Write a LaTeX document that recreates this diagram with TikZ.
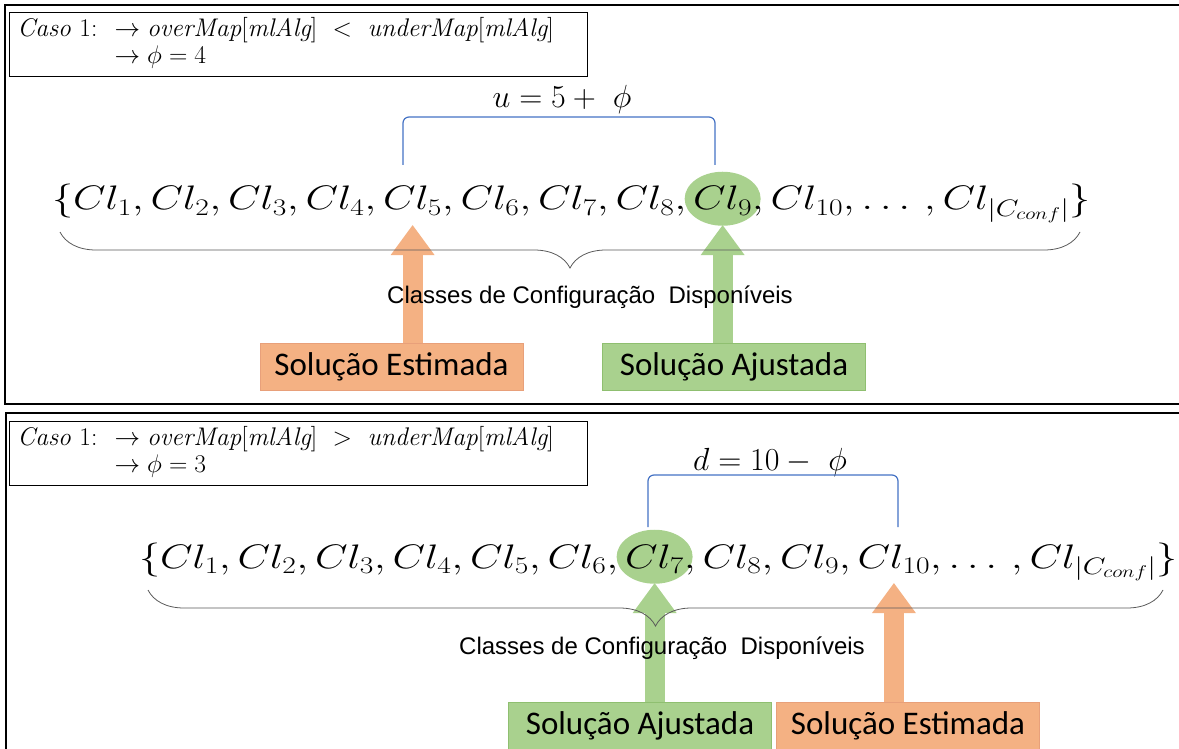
\RequirePackage{fix-cm}
\documentclass[tikz,border=0pt]{standalone}
\usepackage{fontspec}
\newfontfamily\calfont{Carlito}
\newfontfamily\arialfont{Liberation Sans}
\usetikzlibrary{decorations.pathreplacing,arrows.meta,calc}
\pgfdeclarelayer{background}
\pgfsetlayers{background,main}
\definecolor{orfill}{HTML}{F4B183}
\definecolor{gnfill}{HTML}{A9D18E}
\definecolor{ordraw}{HTML}{E8A07A}
\definecolor{gndraw}{HTML}{8FBF70}
\definecolor{brblue}{HTML}{4472C4}
\newcommand\wide[1]{\scalebox{1.24}[1]{#1}}
\tikzset{
  setel/.style={anchor=base west, inner sep=0pt, outer sep=0pt, font=\fontsize{34}{34}\selectfont},
  panel/.style={line width=1.6pt},
  casebox/.style={draw, line width=0.9pt, anchor=north west, text width=562pt,
    inner xsep=8pt, inner ysep=5pt, align=left, font=\fontsize{25.5}{27}\selectfont},
  solbox/.style={minimum width=263pt, minimum height=47pt, inner sep=0pt,
    font=\calfont\fontsize{33}{33}\selectfont},
  estbox/.style={solbox, fill=orfill, draw=ordraw, line width=0.6pt},
  ajubox/.style={solbox, fill=gnfill, draw=gndraw, line width=0.6pt},
  uparrow/.style={line width=20pt, -{Triangle[width=44pt,length=30pt,line width=0pt]}},
  orarrow/.style={uparrow, draw=orfill},
  gnarrow/.style={uparrow, draw=gnfill},
  bracket/.style={draw=brblue, line width=1.2pt, rounded corners=6pt},
  setbrace/.style={draw=gray!70!black, line width=0.8pt, decorate,
    decoration={brace, mirror, amplitude=36pt, aspect=0.5}},
  classlabel/.style={font=\arialfont\fontsize{24}{24}\selectfont, inner sep=0pt},
  shiftlabel/.style={font=\fontsize{32}{32}\selectfont, inner sep=0pt},
  chosen/.style={fill=gnfill},
}
% builds the set {Cl_1, ..., Cl_|Cconf|} from node (#1) at position #2
\newcommand\clset[2]{%
  \node[setel] (#1p0) at (#2) {\wide{$\{$}};
  \foreach \i [remember=\i as \j (initially 0)] in {1,...,10} {
    \node[setel] (#1c\i) at (#1p\j.base east) {\wide{$Cl_{\i}$}};
    \node[setel] (#1p\i) at (#1c\i.base east) {\wide{$,\,$}};
  }
  \node[setel] (#1dots) at (#1p10.base east) {\wide{$\ldots\,,\,$}};
  \node[setel] (#1last) at (#1dots.base east) {\wide{$Cl_{|C_{conf}|}$}};
  \node[setel] (#1end) at (#1last.base east) {\wide{$\}$}};
}
\begin{document}
\begin{tikzpicture}[x=1pt,y=-1pt]
\useasboundingbox (0,0) rectangle (1179,749);

% ---------------- upper panel ----------------
\draw[panel] (1179,5) -- (5,5) -- (5,404) -- (1179,404);
\node[casebox] (case1) at (9,12) {%
  \begin{tabular}{@{}l@{\ \ }l@{}}
  \textit{Caso} 1: & $\rightarrow \mathit{overMap}[\mathit{mlAlg}]\ <\ \mathit{underMap}[\mathit{mlAlg}]$\\
   & $\rightarrow \phi=4$
  \end{tabular}};
\node[shiftlabel] (ulab) at (562,100) {$u = 5 +\ \phi$};
\draw[bracket] (403,165) -- (403,117) -- (715,117) -- (715,165);

\clset{t}{52,210}
\begin{pgfonlayer}{background}
  \fill[chosen] ([yshift=2pt]tc9.center) ellipse [x radius=38, y radius=27];
\end{pgfonlayer}

\node[estbox] (est1) at (391.5,366.5) {Solução Estimada};
\node[ajubox] (aju1) at (734,366.5) {Solução Ajustada};
\draw[orarrow] (tc5 |- est1.north) -- ([yshift=-10pt]tc5.south);
\draw[gnarrow] (tc9 |- aju1.north) -- ([yshift=-10pt]tc9.south);

\draw[setbrace] (60,232) -- (1080,232);
\node[classlabel] (cls1) at (590,297) {Classes de Configuração\ \ Disponíveis};

% ---------------- lower panel ----------------
\draw[panel] (1179,413) -- (6,413) -- (6,749);
\node[casebox] (case2) at (9,421) {%
  \begin{tabular}{@{}l@{\ \ }l@{}}
  \textit{Caso} 1: & $\rightarrow \mathit{overMap}[\mathit{mlAlg}]\ >\ \mathit{underMap}[\mathit{mlAlg}]$\\
   & $\rightarrow \phi=3$
  \end{tabular}};
\node[shiftlabel] (dlab) at (770,462) {$d = 10 -\ \phi$};
\draw[bracket] (648,527) -- (648,475) -- (898,475) -- (898,527);

\clset{b}{139,568}
\begin{pgfonlayer}{background}
  \fill[chosen] ([yshift=2pt]bc7.center) ellipse [x radius=38, y radius=27];
\end{pgfonlayer}

\node[ajubox] (aju2) at (640,725.5) {Solução Ajustada};
\node[estbox] (est2) at (908,725.5) {Solução Estimada};
\draw[gnarrow] (bc7 |- aju2.north) -- ([yshift=-10pt]bc7.south);
\draw[orarrow] (bc10 |- est2.north) -- ([yshift=-10pt]bc10.south);

\draw[setbrace] (148,590) -- (1163,590);
\node[classlabel] (cls2) at (662,648) {Classes de Configuração\ \ Disponíveis};
\end{tikzpicture}
\end{document}
